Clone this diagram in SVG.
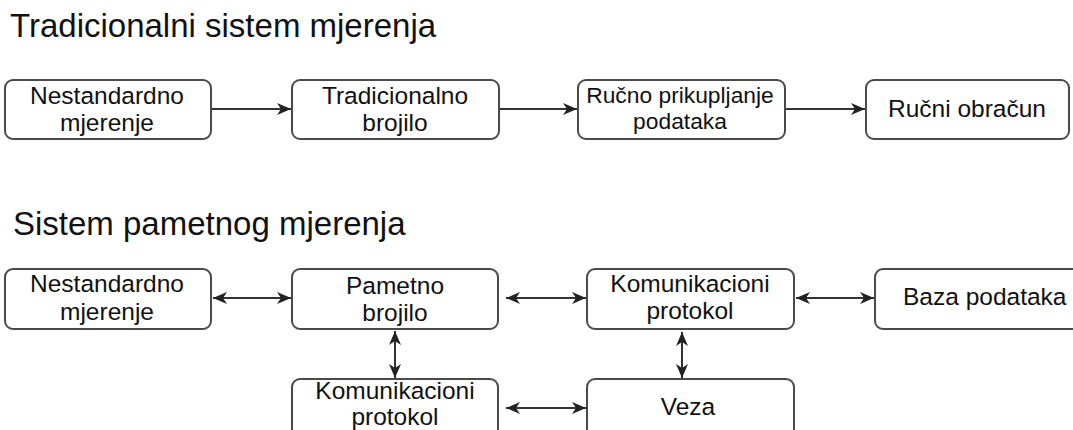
<svg xmlns="http://www.w3.org/2000/svg" width="1073" height="430" viewBox="0 0 1073 430">
<style>
.box{fill:#fff;stroke:#4a4a4a;stroke-width:2}
.t{font-family:"Liberation Sans",Arial,sans-serif;font-size:24.5px;fill:#111;text-anchor:middle}
.title{font-family:"Liberation Sans",Arial,sans-serif;font-size:33px;fill:#111}
.c{stroke:#333;stroke-width:2;fill:none}
</style>
<defs>
<marker id="ah" markerUnits="userSpaceOnUse" markerWidth="16" markerHeight="14" refX="14" refY="7" orient="auto-start-reverse">
<path d="M0,1 L14,7 L0,13 L4,7 z" fill="#222"/>
</marker>
</defs>
<text class="title" x="10" y="37">Tradicionalni sistem mjerenja</text>
<text class="title" x="13" y="235">Sistem pametnog mjerenja</text>

<g id="connectors">
<line class="c" x1="211" y1="109" x2="291" y2="109" marker-end="url(#ah)"/>
<line class="c" x1="499" y1="109" x2="577" y2="109" marker-end="url(#ah)"/>
<line class="c" x1="785" y1="109" x2="865" y2="109" marker-end="url(#ah)"/>
<line class="c" x1="213" y1="298" x2="291" y2="298" marker-start="url(#ah)" marker-end="url(#ah)"/>
<line class="c" x1="506" y1="298" x2="586" y2="298" marker-start="url(#ah)" marker-end="url(#ah)"/>
<line class="c" x1="796" y1="298" x2="874" y2="298" marker-start="url(#ah)" marker-end="url(#ah)"/>
<line class="c" x1="395" y1="331" x2="395" y2="378" marker-start="url(#ah)" marker-end="url(#ah)"/>
<line class="c" x1="682" y1="332" x2="682" y2="378" marker-start="url(#ah)" marker-end="url(#ah)"/>
<line class="c" x1="506" y1="408" x2="586" y2="408" marker-start="url(#ah)" marker-end="url(#ah)"/>
</g>

<g id="n1"><rect class="box" x="5" y="80" width="206" height="59" rx="8"/><text class="t" x="107" y="104">Nestandardno</text><text class="t" x="107" y="131">mjerenje</text></g>
<g id="n2"><rect class="box" x="292" y="80" width="207" height="59" rx="8"/><text class="t" x="395" y="104">Tradicionalno</text><text class="t" x="395" y="131">brojilo</text></g>
<g id="n3"><rect class="box" x="578" y="80" width="207" height="59" rx="8"/><text class="t" x="680" y="103" style="font-size:22.8px">Ručno prikupljanje</text><text class="t" x="680" y="129" style="font-size:22.8px">podataka</text></g>
<g id="n4"><rect class="box" x="866" y="80" width="203" height="59" rx="8"/><text class="t" x="967" y="117">Ručni obračun</text></g>

<g id="m1"><rect class="box" x="5" y="269" width="206" height="60" rx="8"/><text class="t" x="107" y="292">Nestandardno</text><text class="t" x="107" y="320">mjerenje</text></g>
<g id="m2"><rect class="box" x="292" y="269" width="206" height="60" rx="8"/><text class="t" x="395" y="294">Pametno</text><text class="t" x="395" y="321">brojilo</text></g>
<g id="m3"><rect class="box" x="587" y="269" width="207" height="60" rx="8"/><text class="t" x="690" y="292">Komunikacioni</text><text class="t" x="690" y="319">protokol</text></g>
<g id="m4"><rect class="box" x="875" y="269" width="210" height="60" rx="8"/><text class="t" x="903" y="305" style="text-anchor:start">Baza podataka</text></g>
<g id="m5"><rect class="box" x="292" y="379" width="206" height="62" rx="8"/><text class="t" x="395" y="399">Komunikacioni</text><text class="t" x="395" y="425">protokol</text></g>
<g id="m6"><rect class="box" x="587" y="379" width="207" height="62" rx="8"/><text class="t" x="688" y="415">Veza</text></g>
</svg>
